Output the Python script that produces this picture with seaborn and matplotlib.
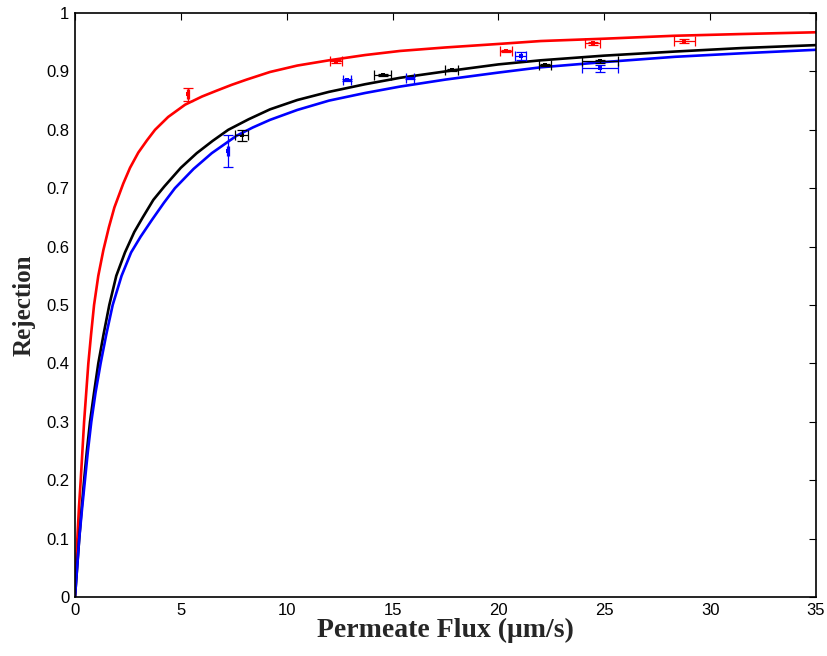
import matplotlib
matplotlib.use("Agg")
import matplotlib.pyplot as plt
import seaborn as sns
import pandas as pd

# Model curves
red_J = [0, 0.05, 0.11, 0.19, 0.27, 0.35, 0.43, 0.53, 0.63, 0.76, 0.90, 1.1, 1.34, 1.6, 1.86, 2.28,
         2.6, 2.99, 3.4, 3.78, 4.4, 5.2, 6.0, 6.69, 7.4, 8.11, 9.21, 10.5, 12.0, 13.7, 15.35, 17.5,
         20.0, 22.0, 25.0, 28.3, 31.5, 35.0]
red_R = [0, 0.047, 0.10, 0.155, 0.20, 0.25, 0.30, 0.35, 0.40, 0.45, 0.50, 0.55, 0.594, 0.633, 0.667, 0.708,
         0.735, 0.761, 0.782, 0.800, 0.822, 0.843, 0.857, 0.867, 0.877, 0.886, 0.899, 0.910, 0.919, 0.928, 0.935, 0.941,
         0.947, 0.952, 0.956, 0.961, 0.964, 0.967]

blk_J = [0, 0.1, 0.2, 0.31, 0.43, 0.56, 0.71, 0.9, 1.1, 1.35, 1.62, 1.95, 2.36, 2.8, 3.2, 3.7, 4.22,
         5.0, 5.75, 6.5, 7.24, 8.2, 9.21, 10.5, 12.0, 13.7, 15.35, 17.5, 20.0, 22.0, 25.0, 28.34, 31.5, 35.0]
blk_R = [0, 0.05, 0.10, 0.15, 0.20, 0.25, 0.30, 0.35, 0.40, 0.45, 0.50, 0.55, 0.59, 0.625, 0.65, 0.68, 0.703,
         0.735, 0.760, 0.781, 0.800, 0.818, 0.835, 0.851, 0.865, 0.878, 0.889, 0.900, 0.912, 0.919, 0.927, 0.934, 0.940, 0.945]

blu_J = [0, 0.1, 0.2, 0.33, 0.47, 0.61, 0.77, 0.97, 1.21, 1.48, 1.78, 2.2, 2.65, 3.1, 3.62, 4.2, 4.72,
         5.6, 6.46, 7.64, 8.4, 9.21, 10.5, 12.0, 13.7, 15.35, 17.5, 20.0, 22.0, 25.0, 28.34, 31.5, 35.0]
blu_R = [0, 0.05, 0.10, 0.15, 0.20, 0.25, 0.30, 0.35, 0.40, 0.45, 0.50, 0.55, 0.59, 0.617, 0.645, 0.675, 0.700,
         0.733, 0.760, 0.790, 0.804, 0.817, 0.834, 0.850, 0.863, 0.874, 0.886, 0.898, 0.907, 0.916, 0.925, 0.931, 0.937]

# Measured points with error bars
red_x = [5.35, 12.33, 20.36, 24.45, 28.77]
red_y = [0.861, 0.917, 0.935, 0.948, 0.952]
red_xerr = [0.05, 0.3, 0.3, 0.37, 0.5]
red_yerr = [0.011, 0.003, 0.002, 0.002, 0.003]

blu_x = [7.24, 12.86, 15.82, 21.05, 24.8]
blu_y = [0.764, 0.885, 0.889, 0.926, 0.905]
blu_xerr = [0.05, 0.2, 0.2, 0.25, 0.87]
blu_yerr = [0.027, 0.002, 0.002, 0.007, 0.0057]

blk_x = [7.87, 14.53, 17.79, 22.2, 24.8]
blk_y = [0.791, 0.894, 0.902, 0.911, 0.917]
blk_xerr = [0.3, 0.4, 0.3, 0.3, 0.86]
blk_yerr = [0.0094, 0.002, 0.002, 0.002, 0.002]

xticks = [0, 5, 10, 15, 20, 25, 30, 35]
yticks = [0, 0.1, 0.2, 0.3, 0.4, 0.5, 0.6, 0.7, 0.8, 0.9, 1]

sns.set_style("white")
plt.rcParams['font.family'] = ['Liberation Sans', 'DejaVu Sans']

fig = plt.figure(figsize=(8.28, 6.56), dpi=100)
ax = fig.add_axes([75/828, 59/656, 741/828, 584/656])

curves = [(red_J, red_R, "red"), (blk_J, blk_R, "black"), (blu_J, blu_R, "blue")]
for J, R, c in curves:
    df = pd.DataFrame({"J": J, "R": R})
    sns.lineplot(data=df, x="J", y="R", color=c, linewidth=1.9, ax=ax, sort=False)

pts = [(red_x, red_y, red_xerr, red_yerr, "red"),
       (blu_x, blu_y, blu_xerr, blu_yerr, "blue"),
       (blk_x, blk_y, blk_xerr, blk_yerr, "black")]
for x, y, xe, ye, c in pts:
    ax.errorbar(x, y, xerr=xe, yerr=ye, fmt="none", ecolor=c, elinewidth=0.9,
                capsize=3.5, capthick=0.9)
    sns.scatterplot(x=x, y=y, color=c, s=6, marker="s", edgecolor=c, linewidth=0, ax=ax)

ax.set_xlim(0, 35)
ax.set_ylim(0, 1)
ax.set_xticks(xticks)
ax.set_yticks(yticks)
ax.set_xticklabels([str(t) for t in xticks])
ax.set_yticklabels(["0", "0.1", "0.2", "0.3", "0.4", "0.5", "0.6", "0.7", "0.8", "0.9", "1"])
ax.tick_params(direction="in", length=5, width=0.8, top=True, right=True,
               labelsize=12, pad=4, colors="black")
for s in ax.spines.values():
    s.set_linewidth(1.2)
    s.set_color("black")

ax.set_xlabel("Permeate Flux (\u03bcm/s)", fontsize=20, fontweight="bold",
              family=["Liberation Serif", "DejaVu Serif"], labelpad=0)
ax.set_ylabel("Rejection", fontsize=18, fontweight="bold",
              family=["Liberation Serif", "DejaVu Serif"], labelpad=8)

fig.savefig("out.png", dpi=100)
